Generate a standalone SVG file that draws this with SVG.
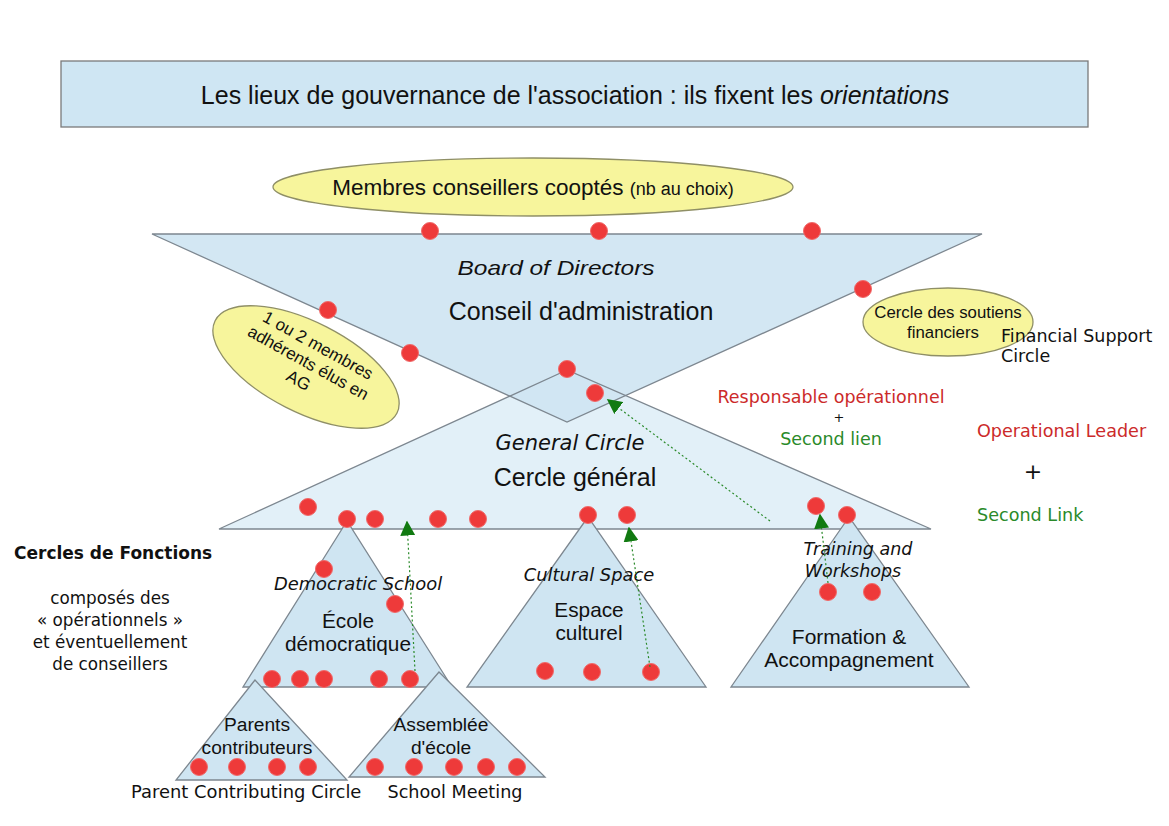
<svg xmlns="http://www.w3.org/2000/svg" width="1169" height="826" viewBox="0 0 1169 826">
<style>
.box{fill:#cfe6f3;stroke:#7a7a7a;stroke-width:1.3}
.tri{fill:#cfe5f2;stroke:#7d8790;stroke-width:1.3}
.genf{fill:#e2f0f8;stroke:none}
.gens{fill:none;stroke:#7d8790;stroke-width:1.3}
.ell{fill:#f7f59c;stroke:#8f8f66;stroke-width:1.3}
.dot{fill:#ee3a3a;stroke:#f06a6a;stroke-width:1}
.arr{fill:none;stroke:#2a8a2a;stroke-width:1.2;stroke-dasharray:2,2.5}
.s{font-family:"Liberation Sans",Arial,sans-serif;fill:#111}
.d{font-family:"DejaVu Sans",sans-serif;fill:#111}
.c{text-anchor:middle}
.i{font-style:italic}
.red{fill:#cc2a2a}
.grn{fill:#2a8a2a}
</style>
<defs>
<marker id="ah2" viewBox="0 0 10 10" refX="9" refY="5" markerWidth="15" markerHeight="15" markerUnits="userSpaceOnUse" orient="auto">
<path d="M0,0 L10,5 L0,10 z" fill="#117a11"/>
</marker>
</defs>
<rect width="1169" height="826" fill="#ffffff"/>

<g id="title">
<rect class="box" x="61" y="61" width="1027" height="66"/>
<text class="s c" x="575" y="104" font-size="25">Les lieux de gouvernance de l'association : ils fixent les <tspan font-style="italic">orientations</tspan></text>
</g>

<g id="cooptes">
<ellipse class="ell" cx="533" cy="187" rx="260" ry="29"/>
<text class="s c" x="533" y="195" font-size="22.5">Membres conseillers cooptés <tspan font-size="18">(nb au choix)</tspan></text>
</g>

<g id="general-fill">
<polygon class="genf" points="567,370 219,529 931,529"/>
</g>
<g id="board">
<polygon class="tri" points="152,234 982,234 567,422" fill-opacity="0.92"/>
<text class="s c i" x="556" y="275" font-size="21" textLength="197" lengthAdjust="spacingAndGlyphs">Board of Directors</text>
<text class="s c" x="581" y="320" font-size="25">Conseil d'administration</text>
</g>
<g id="general">
<polygon class="gens" points="567,370 219,529 931,529"/>
<text class="d c i" x="570" y="450" font-size="21">General Circle</text>
<text class="s c" x="575" y="486" font-size="25">Cercle général</text>
</g>

<g id="elus">
<ellipse class="ell" cx="306" cy="367" rx="102" ry="45" transform="rotate(27 306 367)"/>
<g transform="rotate(29 306 367)">
<text class="s c" x="306" y="348" font-size="17">1 ou 2 membres</text>
<text class="s c" x="306" y="368" font-size="17">adhérents élus en</text>
<text class="s c" x="306" y="388" font-size="17">AG</text>
</g>
</g>

<g id="soutiens">
<ellipse class="ell" cx="948" cy="322" rx="85" ry="34"/>
<text class="s c" x="948" y="318" font-size="16.8">Cercle des soutiens</text>
<text class="s c" x="943" y="338" font-size="16.8">financiers</text>
<text class="d" x="1001" y="342" font-size="17.5">Financial Support</text>
<text class="d" x="1001" y="362" font-size="17.5">Circle</text>
</g>

<g id="legend">
<text class="d c red" x="831" y="403" font-size="17.5">Responsable opérationnel</text>
<text class="d c" x="839" y="422" font-size="13">+</text>
<text class="d c grn" x="831" y="445" font-size="17.5">Second  lien</text>
<text class="d red" x="977" y="437" font-size="17.6">Operational Leader</text>
<text class="d c" x="1033" y="479" font-size="22">+</text>
<text class="d grn" x="977" y="521" font-size="17.6">Second Link</text>
</g>

<g id="fonctions">
<text class="d" x="14" y="559" font-size="17" font-weight="bold">Cercles de Fonctions</text>
<text class="d c" x="110" y="604" font-size="16.8">composés des</text>
<text class="d c" x="110" y="626" font-size="16.8">« opérationnels »</text>
<text class="d c" x="110" y="648" font-size="16.8">et éventuellement</text>
<text class="d c" x="110" y="670" font-size="16.8">de conseillers</text>
</g>

<g id="ecole">
<polygon class="tri" points="347,521 243,687 452,687"/>
<text class="d c i" x="358" y="590" font-size="17.9">Democratic School</text>
<text class="s c" x="348" y="628" font-size="20.8">École</text>
<text class="s c" x="348" y="651" font-size="20.8">démocratique</text>
</g>

<g id="espace">
<polygon class="tri" points="588,517 467,687 706,687"/>
<text class="d c i" x="589" y="581" font-size="17.9">Cultural Space</text>
<text class="s c" x="589" y="617" font-size="20.8">Espace</text>
<text class="s c" x="589" y="640" font-size="20.8">culturel</text>
</g>

<g id="formation">
<polygon class="tri" points="849,517 731,687 969,687"/>
<text class="d c i" x="858" y="555" font-size="17.5">Training and</text>
<text class="d c i" x="853" y="577" font-size="17.5">Workshops</text>
<text class="s c" x="849" y="644" font-size="21">Formation &amp;</text>
<text class="s c" x="849" y="667" font-size="21">Accompagnement</text>
</g>

<g id="parents">
<polygon class="tri" points="255,680 176,780 347,780"/>
<text class="s c" x="257" y="731" font-size="19.2">Parents</text>
<text class="s c" x="257" y="754" font-size="19.2">contributeurs</text>
<text class="d" x="131" y="798" font-size="17.9">Parent Contributing Circle</text>
</g>

<g id="assemblee">
<polygon class="tri" points="439,672 349,777 545,777"/>
<text class="s c" x="441" y="731" font-size="19.2">Assemblée</text>
<text class="s c" x="441" y="754" font-size="19.2">d'école</text>
<text class="d c" x="455" y="798" font-size="17.6">School Meeting</text>
</g>

<g id="dots">
<circle class="dot" cx="430" cy="231" r="8.5"/>
<circle class="dot" cx="599" cy="231" r="8.5"/>
<circle class="dot" cx="812" cy="231" r="8.5"/>
<circle class="dot" cx="328" cy="310" r="8.5"/>
<circle class="dot" cx="410" cy="353" r="8.5"/>
<circle class="dot" cx="863" cy="289" r="8.5"/>
<circle class="dot" cx="567" cy="369" r="8.5"/>
<circle class="dot" cx="595" cy="393" r="8.5"/>
<circle class="dot" cx="308" cy="507" r="8.5"/>
<circle class="dot" cx="347" cy="519" r="8.5"/>
<circle class="dot" cx="375" cy="519" r="8.5"/>
<circle class="dot" cx="438" cy="519" r="8.5"/>
<circle class="dot" cx="478" cy="519" r="8.5"/>
<circle class="dot" cx="588" cy="515" r="8.5"/>
<circle class="dot" cx="627" cy="515" r="8.5"/>
<circle class="dot" cx="816" cy="506" r="8.5"/>
<circle class="dot" cx="847" cy="515" r="8.5"/>
<circle class="dot" cx="324" cy="569" r="8.5"/>
<circle class="dot" cx="395" cy="604" r="8.5"/>
<circle class="dot" cx="272" cy="679" r="8.5"/>
<circle class="dot" cx="300" cy="679" r="8.5"/>
<circle class="dot" cx="324" cy="679" r="8.5"/>
<circle class="dot" cx="379" cy="679" r="8.5"/>
<circle class="dot" cx="410" cy="679" r="8.5"/>
<circle class="dot" cx="545" cy="671" r="8.5"/>
<circle class="dot" cx="592" cy="672" r="8.5"/>
<circle class="dot" cx="651" cy="672" r="8.5"/>
<circle class="dot" cx="828" cy="592" r="8.5"/>
<circle class="dot" cx="872" cy="592" r="8.5"/>
<circle class="dot" cx="199" cy="767" r="8.5"/>
<circle class="dot" cx="237" cy="767" r="8.5"/>
<circle class="dot" cx="277" cy="767" r="8.5"/>
<circle class="dot" cx="308" cy="767" r="8.5"/>
<circle class="dot" cx="375" cy="767" r="8.5"/>
<circle class="dot" cx="414" cy="767" r="8.5"/>
<circle class="dot" cx="454" cy="767" r="8.5"/>
<circle class="dot" cx="486" cy="767" r="8.5"/>
<circle class="dot" cx="517" cy="767" r="8.5"/>
</g>

<g id="connectors">
<line class="arr" x1="770" y1="521" x2="608" y2="400" marker-end="url(#ah2)"/>
<line class="arr" x1="415" y1="671" x2="407" y2="522" marker-end="url(#ah2)"/>
<line class="arr" x1="650" y1="667" x2="629" y2="528" marker-end="url(#ah2)"/>
<line class="arr" x1="828" y1="583" x2="820" y2="515" marker-end="url(#ah2)"/>
</g>
</svg>
